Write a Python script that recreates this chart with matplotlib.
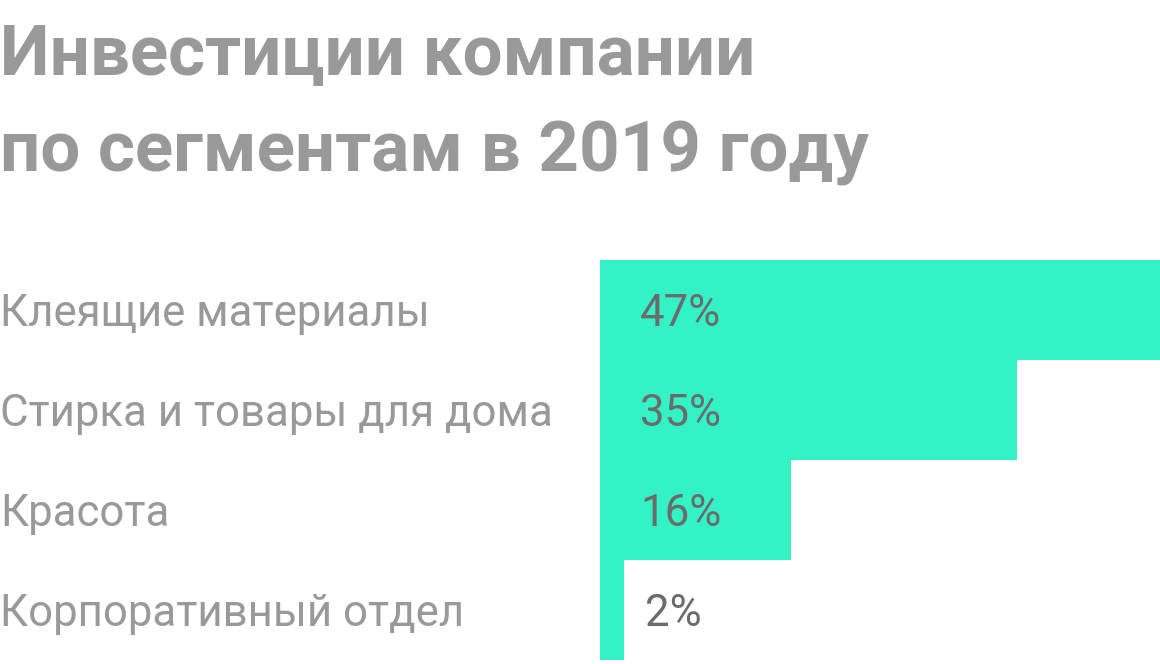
import matplotlib.pyplot as plt

categories = ["Клеящие материалы", "Стирка и товары для дома", "Красота", "Корпоративный отдел"]
shares = [47, 35, 16, 2]
labels = ["47%", "35%", "16%", "2%"]

plt.rcParams['font.family'] = ['Roboto', 'DejaVu Sans']

W, H = 1160, 664
fig = plt.figure(figsize=(W / 100, H / 100), dpi=100)

ax = fig.add_axes([600 / W, 4 / H, 560 / W, 400 / H])
ypos = list(range(len(shares)))
ax.barh(ypos, shares, height=1.0, color='#33f2c6')
ax.set_xlim(0, 47)
ax.set_ylim(len(shares) - 0.5, -0.5)
ax.axis('off')

for i, (cat, lab) in enumerate(zip(categories, labels)):
    yc = (260 + 100 * i + 54) / H
    fig.text((640 if shares[i] > 2 else 645) / W, 1 - yc, lab, va='center', ha='left',
             fontsize=31.5, color='#6b6b6b')
    fig.text(0, 1 - yc, cat, va='center', ha='left', fontsize=31.5, color='#999999')

fig.text(0, 1 - 55 / H, "Инвестиции компании", va='center', ha='left',
         fontsize=51, fontweight='bold', color='#999999')
fig.text(0, 1 - 152 / H, "по сегментам в 2019 году", va='center', ha='left',
         fontsize=51, fontweight='bold', color='#999999')

fig.savefig('out.png', dpi=100)
